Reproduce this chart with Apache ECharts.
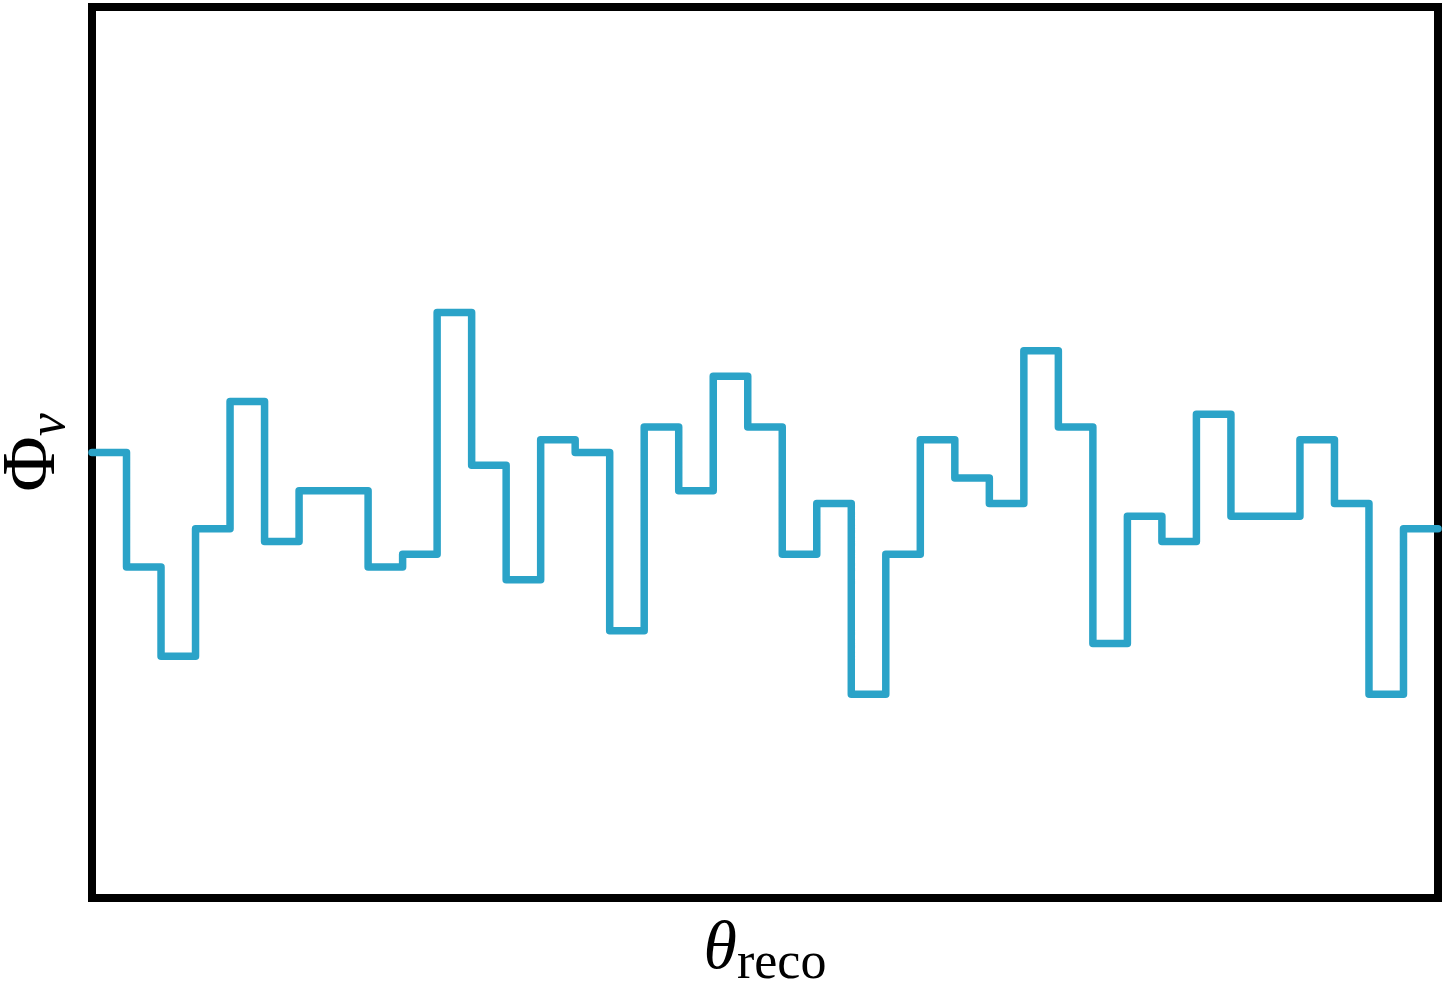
<!DOCTYPE html>
<html>
<head>
<meta charset="utf-8">
<script src="https://cdn.jsdelivr.net/npm/echarts@6/dist/echarts.min.js"></script>
<style>
html,body{margin:0;padding:0;background:#fff;}
#chart{width:1444px;height:1000px;}
</style>
</head>
<body>
<div id="chart"></div>
<script>
// Histogram counts per reconstructed-angle bin (39 bins)
const binCounts = [35, 26, 19, 29, 39, 28, 32, 32, 26, 27, 46, 34, 25, 36, 35, 21, 37, 32, 41, 37,
                   27, 31, 16, 27, 36, 33, 31, 43, 37, 20, 30, 28, 38, 30, 30, 36, 31, 16, 29];
const yRange = [0, 70];
const xLabel = ['θ', 'reco'];
const yLabel = ['Φ', 'ν'];

const nBins = binCounts.length;
const stepData = binCounts.map((c, i) => [i, c]);
stepData.push([nBins, binCounts[nBins - 1]]);

const chart = echarts.init(document.getElementById('chart'), null, {renderer: 'canvas'});
const serif = '"Liberation Serif", "DejaVu Serif", serif';
chart.setOption({
  animation: false,
  backgroundColor: '#ffffff',
  grid: {
    left: 92, top: 7, width: 1346, height: 891,
    containLabel: false, outerBoundsMode: 'none',
    show: true, borderColor: '#000000', borderWidth: 8, backgroundColor: 'transparent'
  },
  xAxis: {
    type: 'value', min: 0, max: nBins,
    axisLine: {show: false}, axisTick: {show: false}, axisLabel: {show: false}, splitLine: {show: false},
    name: '{t|' + xLabel[0] + '}{s|' + xLabel[1] + '}',
    nameLocation: 'middle', nameGap: 12,
    nameTextStyle: {
      rich: {
        t: {fontFamily: serif, fontStyle: 'italic', fontSize: 68, lineHeight: 80, verticalAlign: 'middle', color: '#000'},
        s: {fontFamily: serif, fontSize: 52, lineHeight: 40, verticalAlign: 'bottom', color: '#000'}
      }
    }
  },
  yAxis: {
    type: 'value', min: yRange[0], max: yRange[1],
    axisLine: {show: false}, axisTick: {show: false}, axisLabel: {show: false}, splitLine: {show: false},
    name: '{t|' + yLabel[0] + '}{s|' + yLabel[1] + '}',
    nameLocation: 'middle', nameGap: 16, nameRotate: 90,
    nameTextStyle: {
      rich: {
        t: {fontFamily: serif, fontSize: 76, lineHeight: 84, verticalAlign: 'middle', color: '#000'},
        s: {fontFamily: serif, fontStyle: 'italic', fontSize: 52, lineHeight: 44, verticalAlign: 'bottom', color: '#000'}
      }
    }
  },
  series: [{
    type: 'line',
    step: 'end',
    data: stepData,
    showSymbol: false,
    symbol: 'none',
    clip: true,
    lineStyle: {color: '#2ba3c8', width: 7.5, join: 'round', cap: 'round'}
  }]
});
</script>
</body>
</html>
